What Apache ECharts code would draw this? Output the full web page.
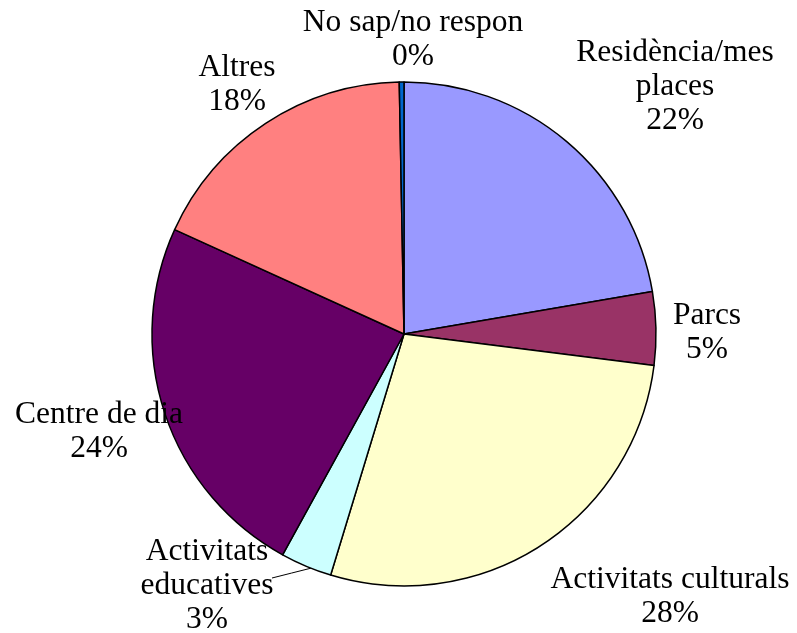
<!DOCTYPE html>
<html>
<head>
<meta charset="utf-8">
<script src="https://cdn.jsdelivr.net/npm/echarts@6/dist/echarts.min.js"></script>
<style>
  html, body { margin: 0; padding: 0; background: #fff; }
  #chart { width: 797px; height: 633px; }
</style>
</head>
<body>
<div id="chart"></div>
<script>
// categories clockwise from 12 o'clock
const categories = [
  'Residència/mes\nplaces',
  'Parcs',
  'Activitats culturals',
  'Activitats\neducatives',
  'Centre de dia',
  'Altres',
  'No sap/no respon',
]
const shares = [22.3, 4.7, 27.7, 3.3, 23.8, 17.9, 0.3]
const percentLabels = ['22%', '5%', '28%', '3%', '24%', '18%', '0%']
const colors = ['#9999FF', '#993366', '#FFFFCC', '#CCFFFF', '#660066', '#FF8080', '#0066CC']

// label centres, in pixels
const labelPos = [
  [675, 87], [707, 333], [670, 597], [207, 586], [99, 432], [237, 85], [413, 40],
]
const pieCenter = [404, 334]
const pieRadius = 252

const chart = echarts.init(document.getElementById('chart'))

chart.setOption({
  animation: false,
  series: [
    {
      type: 'pie',
      center: pieCenter,
      radius: pieRadius,
      startAngle: 90,
      clockwise: true,
      avoidLabelOverlap: false,
      data: categories.map((name, i) => ({
        name: name,
        value: shares[i],
        itemStyle: { color: colors[i] },
        labelLine: { show: i === 3 },
      })),
      itemStyle: {
        borderColor: '#000',
        borderWidth: 1.5,
      },
      label: {
        show: true,
        position: 'outside',
        formatter: (p) => p.name + '\n' + percentLabels[p.dataIndex],
        fontFamily: 'Liberation Serif',
        fontSize: 31.5,
        lineHeight: 34,
        color: '#000',
      },
      labelLine: {
        lineStyle: { color: '#000', width: 1 },
      },
      labelLayout: (params) => {
        const i = params.dataIndex
        const pos = labelPos[i]
        const out = {
          x: pos[0],
          y: pos[1],
          align: 'center',
          verticalAlign: 'middle',
        }
        if (i === 3) {
          // straight leader from the slice edge to the label
          const before = shares.slice(0, i).reduce((a, b) => a + b, 0)
          const total = shares.reduce((a, b) => a + b, 0)
          const mid = ((before + shares[i] * 0.4) / total) * Math.PI * 2
          const sx = pieCenter[0] + Math.sin(mid) * pieRadius
          const sy = pieCenter[1] - Math.cos(mid) * pieRadius
          out.labelLinePoints = [[sx, sy], [(sx + 272) / 2, (sy + 578) / 2], [272, 578]]
        }
        return out
      },
      emphasis: { disabled: true },
    },
  ],
})
</script>
</body>
</html>
